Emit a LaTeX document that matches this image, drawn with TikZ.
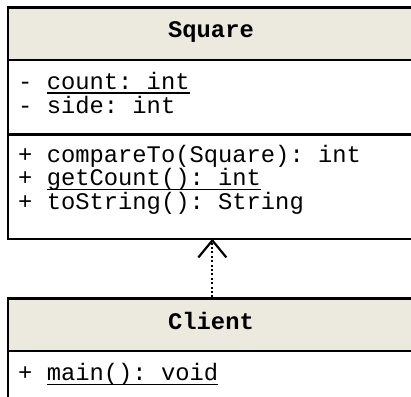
\documentclass[tikz,border=0pt]{standalone}
\usepackage{fontspec}
\setmonofont{Liberation Mono}
\usetikzlibrary{arrows.meta}
\definecolor{headfill}{HTML}{ECE9DF}
% underline a piece of member text (static members)
\newcommand\ulinetext[1]{\setbox0\hbox{#1}\rlap{\rule[-4.7pt]{\wd0}{1.4pt}}\box0}
\begin{document}
\begin{tikzpicture}[x=1pt,y=1pt,
  compartment/.style={draw=black, line width=2.7pt, inner sep=0pt,
    minimum width=409pt, anchor=north west},
  header/.style={compartment, fill=headfill},
  classname/.style={font=\ttfamily\bfseries\fontsize{23.8}{24}\selectfont,
    inner sep=0pt, anchor=base},
  member/.style={font=\ttfamily\fontsize{23.8}{24}\selectfont,
    inner sep=0pt, anchor=base west},
  realizes/.style={line width=2pt, dash pattern=on 2pt off 2.4pt,
    -{Straight Barb[length=17pt, width=28pt, line width=2.2pt]}}
]
\useasboundingbox (0,0) rectangle (411,-396);
\clip (0,0) rectangle (411,-396);
\fill[white] (0,0) rectangle (411,-396);

% class Square
\node[header, minimum height=52.5pt] (squareHead) at (6.5,-6) {};
\node[compartment, minimum height=74.5pt] (squareAttrs) at (6.5,-58.5) {};
\node[compartment, minimum height=104.5pt] (squareOps) at (6.5,-133) {};
\node[classname] (squareName) at (211,-37.7) {Square};
\node[member] (countAttr) at (18,-89) {- \ulinetext{count: int}};
\node[member] (sideAttr) at (18,-113) {- side: int};
\node[member] (compareOp) at (18,-162) {+ compareTo(Square): int};
\node[member] (getCountOp) at (18,-185.5) {+ \ulinetext{getCount(): int}};
\node[member] (toStringOp) at (18,-209) {+ toString(): String};

% class Client
\node[header, minimum height=52.4pt] (clientHead) at (6.5,-297.3) {};
\node[compartment, minimum height=80pt] (clientOps) at (6.5,-349.7) {};
\node[classname] (clientName) at (211,-329) {Client};
\node[member] (mainOp) at (18,-380.5) {+ \ulinetext{main(): void}};

% Client realizes Square
\draw[realizes, shorten >=-1.5pt] (clientHead.north) -- (squareOps.south);
\end{tikzpicture}
\end{document}
